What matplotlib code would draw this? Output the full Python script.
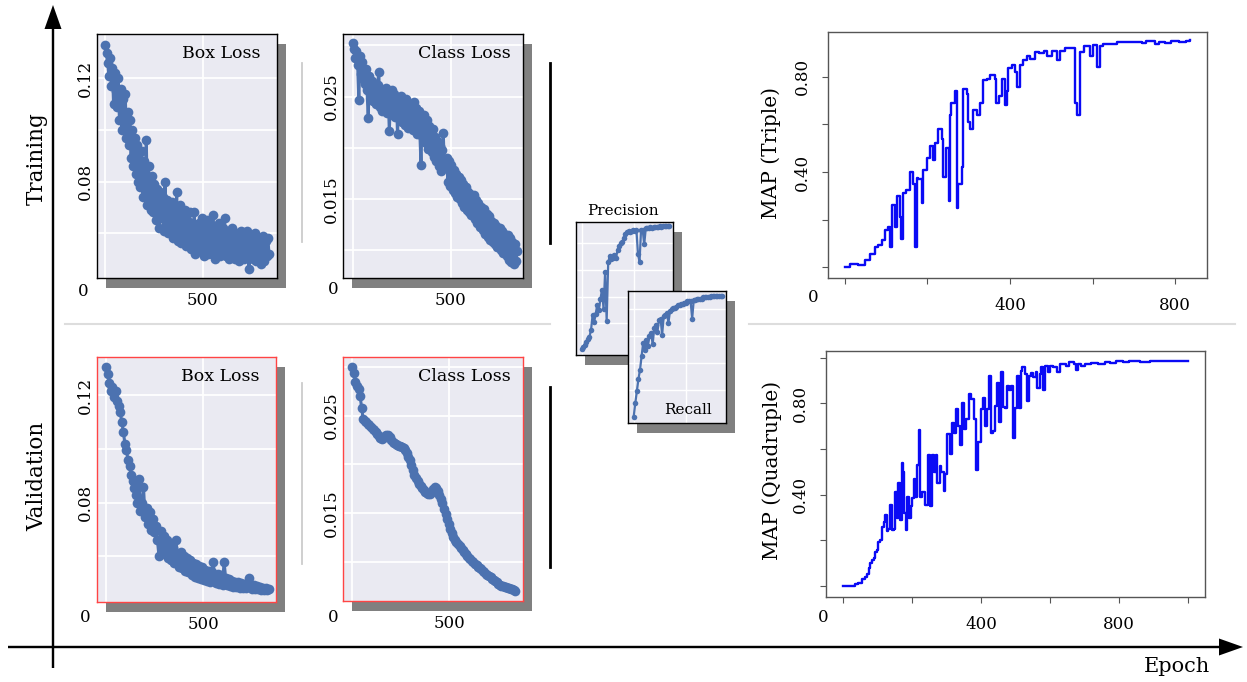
import matplotlib
matplotlib.use("Agg")
import matplotlib.pyplot as plt
from matplotlib.patches import Rectangle
import numpy as np

W, H = 1247, 682
plt.rcParams['font.family'] = 'DejaVu Serif'

SNS_BLUE = '#4C72B0'
PANEL_BG = '#EAEAF2'

# ---- training losses (one point every 6 epochs) ----
train_box = [
    0.133, 0.130, 0.126, 0.121, 0.128, 0.117, 0.124, 0.110, 0.122, 0.115,
    0.109, 0.120, 0.104, 0.116, 0.100, 0.112, 0.103, 0.114, 0.097, 0.107,
    0.094, 0.104, 0.089, 0.100, 0.086, 0.097, 0.083, 0.094, 0.080, 0.091,
    0.078, 0.092, 0.074, 0.088, 0.077, 0.096, 0.071, 0.086, 0.075, 0.069,
    0.082, 0.068, 0.079, 0.065, 0.077, 0.070, 0.062, 0.076, 0.066, 0.074,
    0.061, 0.080, 0.064, 0.073, 0.060, 0.071, 0.062, 0.072, 0.058, 0.069,
    0.060, 0.076, 0.057, 0.068, 0.071, 0.056, 0.066, 0.059, 0.069, 0.055,
    0.065, 0.057, 0.068, 0.054, 0.064, 0.056, 0.068, 0.052, 0.063, 0.055,
    0.064, 0.053, 0.061, 0.066, 0.051, 0.062, 0.054, 0.065, 0.052, 0.061,
    0.063, 0.052, 0.067, 0.055, 0.050, 0.061, 0.053, 0.064, 0.051, 0.060,
    0.053, 0.062, 0.066, 0.051, 0.059, 0.061, 0.050, 0.058, 0.062, 0.052,
    0.059, 0.050, 0.060, 0.053, 0.049, 0.058, 0.061, 0.051, 0.057, 0.050,
    0.058, 0.061, 0.051, 0.046, 0.057, 0.059, 0.050, 0.056, 0.060, 0.049,
    0.057, 0.050, 0.058, 0.048, 0.056, 0.059, 0.049, 0.057, 0.051, 0.058,
    0.052,
]
train_cls = [
    0.0302, 0.0296, 0.0288, 0.0294, 0.0281, 0.0247, 0.0290, 0.0272, 0.0284, 0.0266,
    0.0262, 0.0277, 0.0256, 0.0229, 0.0270, 0.0251, 0.0265, 0.0246, 0.0262, 0.0249,
    0.0243, 0.0261, 0.0274, 0.0240, 0.0257, 0.0236, 0.0254, 0.0238, 0.0258, 0.0234,
    0.0253, 0.0216, 0.0249, 0.0256, 0.0232, 0.0252, 0.0230, 0.0249, 0.0213, 0.0247,
    0.0229, 0.0251, 0.0225, 0.0246, 0.0222, 0.0248, 0.0227, 0.0219, 0.0244, 0.0223,
    0.0242, 0.0217, 0.0245, 0.0220, 0.0239, 0.0213, 0.0236, 0.0216, 0.0183, 0.0231,
    0.0210, 0.0232, 0.0205, 0.0227, 0.0199, 0.0221, 0.0202, 0.0196, 0.0218, 0.0191,
    0.0211, 0.0187, 0.0207, 0.0182, 0.0202, 0.0177, 0.0198, 0.0214, 0.0180, 0.0186,
    0.0190, 0.0167, 0.0187, 0.0163, 0.0183, 0.0159, 0.0178, 0.0156, 0.0174, 0.0152,
    0.0172, 0.0150, 0.0169, 0.0146, 0.0165, 0.0142, 0.0162, 0.0139, 0.0157, 0.0137,
    0.0155, 0.0134, 0.0152, 0.0154, 0.0131, 0.0149, 0.0127, 0.0146, 0.0123, 0.0142,
    0.0137, 0.0120, 0.0140, 0.0116, 0.0135, 0.0113, 0.0133, 0.0110, 0.0129, 0.0108,
    0.0127, 0.0106, 0.0124, 0.0103, 0.0122, 0.0122, 0.0100, 0.0119, 0.0097, 0.0116,
    0.0112, 0.0094, 0.0115, 0.0091, 0.0112, 0.0089, 0.0108, 0.0087, 0.0106, 0.0090,
    0.0099,
]

# ---- validation losses (one point every 8 epochs) ----
val_box = [
    0.1306, 0.1280, 0.1245, 0.1218, 0.1232, 0.1195, 0.1215, 0.1180, 0.1160, 0.1138,
    0.1100, 0.1065, 0.1020, 0.0995, 0.0960, 0.0935, 0.0905, 0.0880, 0.0855, 0.0830,
    0.0800, 0.0890, 0.0770, 0.0800, 0.0860, 0.0745, 0.0780, 0.0720, 0.0765, 0.0700,
    0.0740, 0.0690, 0.0715, 0.0660, 0.0600, 0.0695, 0.0630, 0.0675, 0.0610, 0.0660,
    0.0595, 0.0645, 0.0585, 0.0630, 0.0575, 0.0660, 0.0600, 0.0560, 0.0615, 0.0555,
    0.0600, 0.0545, 0.0595, 0.0540, 0.0585, 0.0530, 0.0575, 0.0525, 0.0570, 0.0520,
    0.0565, 0.0515, 0.0560, 0.0512, 0.0550, 0.0508, 0.0545, 0.0505, 0.0540, 0.0580,
    0.0520, 0.0500, 0.0535, 0.0498, 0.0530, 0.0495, 0.0580, 0.0520, 0.0492, 0.0515,
    0.0490, 0.0510, 0.0487, 0.0505, 0.0485, 0.0503, 0.0484, 0.0500, 0.0482, 0.0498,
    0.0482, 0.0495, 0.0520, 0.0490, 0.0480, 0.0492, 0.0478, 0.0488, 0.0477, 0.0485,
    0.0476, 0.0483, 0.0475, 0.0481, 0.0476, 0.0478,
]
val_cls = [
    0.0300, 0.0294, 0.0284, 0.0280, 0.0277, 0.0270, 0.0258, 0.0246, 0.0244, 0.0243,
    0.0241, 0.0240, 0.0238, 0.0236, 0.0235, 0.0233, 0.0231, 0.0229, 0.0227, 0.0226,
    0.0227, 0.0229, 0.0230, 0.0230, 0.0228, 0.0225, 0.0223, 0.0222, 0.0221, 0.0220,
    0.0219, 0.0219, 0.0218, 0.0217, 0.0215, 0.0212, 0.0208, 0.0204, 0.0199, 0.0194,
    0.0189, 0.0186, 0.0183, 0.0180, 0.0178, 0.0176, 0.0174, 0.0172, 0.0171, 0.0170,
    0.0170, 0.0172, 0.0175, 0.0177, 0.0176, 0.0173, 0.0169, 0.0165, 0.0160, 0.0154,
    0.0149, 0.0144, 0.0139, 0.0134, 0.0130, 0.0126, 0.0123, 0.0120, 0.0118, 0.0116,
    0.0114, 0.0112, 0.0110, 0.0108, 0.0106, 0.0104, 0.0103, 0.0101, 0.0100, 0.0098,
    0.0097, 0.0095, 0.0094, 0.0093, 0.0091, 0.0090, 0.0088, 0.0087, 0.0086, 0.0085,
    0.0083, 0.0082, 0.0080, 0.0079, 0.0077, 0.0076, 0.0075, 0.0075, 0.0074, 0.0074,
    0.0073, 0.0073, 0.0072, 0.0072, 0.0071, 0.0070,
]

# ---- precision / recall (one point every 15 epochs) ----
precision = [
    0.01, 0.02, 0.04, 0.06, 0.08, 0.10, 0.15, 0.26, 0.21, 0.27,
    0.34, 0.30, 0.38, 0.45, 0.31, 0.58, 0.22, 0.66, 0.70, 0.68,
    0.69, 0.71, 0.69, 0.75, 0.78, 0.80, 0.81, 0.84, 0.87, 0.88,
    0.89, 0.88, 0.89, 0.90, 0.89, 0.90, 0.72, 0.66, 0.90, 0.90,
    0.79, 0.91, 0.91, 0.91, 0.92, 0.91, 0.92, 0.92, 0.92, 0.92,
    0.93, 0.92, 0.93, 0.93, 0.93, 0.93, 0.93,
]
recall = [
    0.00, 0.10, 0.19, 0.28, 0.35, 0.45, 0.55, 0.50, 0.57, 0.53,
    0.60, 0.62, 0.54, 0.66, 0.68, 0.63, 0.72, 0.73, 0.61, 0.75,
    0.76, 0.77, 0.70, 0.79, 0.80, 0.81, 0.81, 0.82, 0.83, 0.83,
    0.84, 0.84, 0.85, 0.85, 0.86, 0.86, 0.86, 0.73, 0.87, 0.87,
    0.88, 0.88, 0.88, 0.88, 0.89, 0.89, 0.89, 0.89, 0.89, 0.90,
    0.90, 0.90, 0.90, 0.90, 0.90, 0.90, 0.90,
]

# ---- mAP curves: epoch where the value changes, and the new value ----
triple_ep = [
    0, 12, 32, 48, 60, 73, 81, 89, 97, 105, 109, 113, 121, 125, 133, 137, 141, 149,
    157, 166, 170, 174, 178, 186, 190, 198, 206, 214, 218, 226, 234, 238, 246, 251,
    254, 258, 267, 271, 275, 283, 287, 295, 299, 303, 311, 319, 327, 335, 343, 351,
    363, 367, 372, 380, 388, 392, 396, 404, 412, 416, 424, 432, 440, 448, 460, 469,
    481, 489, 501, 513, 521, 533, 557, 561, 570, 578, 594, 602, 610, 618, 626, 659,
    680, 720, 730, 750, 760, 775, 790, 810, 825, 836,
]
triple_map = [
    0.000, 0.014, 0.010, 0.028, 0.056, 0.085, 0.092, 0.113, 0.155, 0.170, 0.085, 0.260,
    0.170, 0.300, 0.210, 0.120, 0.310, 0.325, 0.400, 0.350, 0.085, 0.375, 0.370, 0.270,
    0.410, 0.460, 0.510, 0.450, 0.520, 0.580, 0.540, 0.380, 0.500, 0.280, 0.640, 0.690,
    0.740, 0.250, 0.350, 0.420, 0.750, 0.730, 0.610, 0.580, 0.660, 0.640, 0.690, 0.785,
    0.790, 0.810, 0.790, 0.690, 0.720, 0.790, 0.680, 0.740, 0.837, 0.850, 0.820, 0.756,
    0.850, 0.870, 0.890, 0.876, 0.905, 0.900, 0.910, 0.890, 0.910, 0.870, 0.910, 0.920,
    0.690, 0.640, 0.905, 0.930, 0.890, 0.935, 0.840, 0.930, 0.940, 0.945, 0.948, 0.944,
    0.950, 0.940, 0.948, 0.942, 0.950, 0.946, 0.952, 0.955,
]
quad_ep = [
    0, 20, 35, 45, 55, 63, 69, 75, 79, 85, 89, 94, 98, 103, 108, 113, 118, 122, 127,
    132, 137, 141, 148, 152, 156, 160, 164, 170, 175, 178, 183, 187, 192, 197, 201,
    206, 210, 215, 219, 223, 228, 238, 246, 252, 258, 264, 269, 274, 280, 285, 292,
    297, 302, 309, 316, 323, 328, 333, 340, 345, 352, 357, 364, 372, 381, 386, 392,
    399, 406, 411, 418, 423, 428, 435, 442, 447, 452, 458, 463, 469, 476, 481, 487,
    493, 498, 503, 510, 515, 520, 528, 533, 538, 545, 550, 558, 562, 570, 575, 580,
    585, 595, 600, 610, 620, 630, 645, 655, 670, 675, 680, 690, 700, 720, 740, 760,
    775, 790, 810, 830, 860, 890, 920, 950, 1000,
]
quad_map = [
    0.000, 0.002, 0.008, 0.015, 0.030, 0.040, 0.054, 0.080, 0.100, 0.115, 0.125, 0.150,
    0.160, 0.195, 0.200, 0.260, 0.280, 0.310, 0.240, 0.250, 0.356, 0.245, 0.250, 0.410,
    0.300, 0.450, 0.290, 0.540, 0.500, 0.320, 0.245, 0.390, 0.300, 0.350, 0.385, 0.470,
    0.390, 0.530, 0.686, 0.390, 0.410, 0.356, 0.576, 0.350, 0.576, 0.500, 0.576, 0.450,
    0.525, 0.500, 0.415, 0.490, 0.665, 0.580, 0.716, 0.670, 0.775, 0.700, 0.620, 0.800,
    0.687, 0.730, 0.840, 0.820, 0.730, 0.510, 0.630, 0.775, 0.826, 0.700, 0.775, 0.920,
    0.670, 0.680, 0.790, 0.890, 0.720, 0.937, 0.785, 0.780, 0.878, 0.860, 0.878, 0.650,
    0.780, 0.920, 0.780, 0.944, 0.960, 0.930, 0.810, 0.920, 0.935, 0.915, 0.940, 0.870,
    0.930, 0.960, 0.860, 0.966, 0.937, 0.966, 0.960, 0.937, 0.973, 0.966, 0.980, 0.973,
    0.947, 0.973, 0.966, 0.973, 0.978, 0.975, 0.982, 0.976, 0.984, 0.980, 0.986, 0.983,
    0.987, 0.985, 0.988, 0.986,
]

train_ep = np.arange(len(train_box)) * 6
val_ep = np.arange(len(val_box)) * 8
pr_ep = np.arange(len(precision)) * 15


def frac(x0, y0, x1, y1):
    # pixel box (top-left origin) -> figure fraction rect
    return [x0 / W, 1 - y1 / H, (x1 - x0) / W, (y1 - y0) / H]


fig = plt.figure(figsize=(W / 100, H / 100), dpi=100)

# background layer in pixel coordinates for arrows, separators and free text
bg = fig.add_axes([0, 0, 1, 1], zorder=-5)
bg.set_autoscale_on(False)
bg.set_xlim(0, W)
bg.set_ylim(H, 0)
bg.axis('off')


def shadow(x0, y0, x1, y1, z=-4, dx=9, dy=10):
    fig.add_artist(Rectangle(((x0 + dx) / W, 1 - (y1 + dy) / H), (x1 - x0) / W, (y1 - y0) / H,
                             transform=fig.transFigure, fc='#808080', ec='none', zorder=z))


def loss_panel(px, ep, vals, xlim, ylim, grid_y, labels_y, title, title_x, edge):
    shadow(*px)
    ax = fig.add_axes(frac(*px))
    ax.set_facecolor(PANEL_BG)
    ax.plot(ep, vals, '-o', color=SNS_BLUE, ms=7, lw=2.2, mew=0)
    ax.set_xlim(xlim)
    ax.set_ylim(ylim)
    ax.set_xticks([0, 500])
    ax.set_xticklabels(['', '500'])
    ax.set_yticks(grid_y)
    ax.set_yticklabels(labels_y)
    ax.grid(color='white', lw=1.3)
    ax.set_axisbelow(True)
    ax.tick_params(length=0, labelsize=12)
    ax.tick_params(axis='x', pad=10)
    ax.tick_params(axis='y', pad=2, labelrotation=90)
    for t in ax.get_yticklabels():
        t.set_va('center')
    for s in ax.spines.values():
        s.set_color(edge)
        s.set_linewidth(1)
    ax.text(title_x, 0.92, title, transform=ax.transAxes, ha='right', va='center', fontsize=12.5)
    return ax


box_grid = [0.06, 0.08, 0.10, 0.12]
box_lab = ['', '0.08', '', '0.12']
cls_grid = [0.010, 0.015, 0.020, 0.025, 0.030]
cls_lab = ['', '0.015', '', '0.025', '']

loss_panel((97, 34, 277, 278), train_ep, train_box, (-43, 881), (0.0426, 0.1372),
           box_grid, box_lab, 'Box Loss', 0.91, 'black')
loss_panel((343, 34, 523, 278), train_ep, train_cls, (-51, 870), (0.0073, 0.0311),
           cls_grid, cls_lab, 'Class Loss', 0.93, 'black')
loss_panel((97, 357, 276, 602), val_ep, val_box, (-48, 876), (0.0430, 0.1343),
           box_grid, box_lab, 'Box Loss', 0.91, '#ff4444')
loss_panel((343, 357, 523, 601), val_ep, val_cls, (-48, 879), (0.0060, 0.0310),
           cls_grid, cls_lab, 'Class Loss', 0.93, '#ff4444')


def pr_panel(px, vals, ylim, z, shadow_z):
    shadow(*px, z=shadow_z)
    ax = fig.add_axes(frac(*px), zorder=z)
    ax.set_facecolor(PANEL_BG)
    ax.plot(pr_ep, vals, '-o', color=SNS_BLUE, ms=4, lw=1.6, mew=0)
    ax.set_xlim(-54, 876)
    ax.set_ylim(ylim)
    ax.set_xticks([0, 500])
    ax.set_yticks([0.2, 0.4, 0.6, 0.8])
    ax.set_xticklabels([])
    ax.set_yticklabels([])
    ax.tick_params(length=0)
    ax.grid(color='white', lw=1)
    ax.set_axisbelow(True)
    for s in ax.spines.values():
        s.set_color('black')
        s.set_linewidth(1)
    return ax


pr_panel((576, 222, 673, 355), precision, (-0.037, 0.957), 0, -4)
ax_rec = pr_panel((628, 291, 726, 423), recall, (-0.047, 0.936), 2, 1)
ax_rec.text(0.61, 0.10, 'Recall', transform=ax_rec.transAxes, ha='center', va='center', fontsize=11)
bg.text(623, 211, 'Precision', ha='center', va='center', fontsize=11)


def map_panel(px, ep, vals, xlim, ylim, xticks, xlabels, yticks, ylabels):
    ax = fig.add_axes(frac(*px))
    ax.step(ep, vals, where='post', color='#0a0af5', lw=1.7)
    ax.set_xlim(xlim)
    ax.set_ylim(ylim)
    ax.set_xticks(xticks)
    ax.set_xticklabels(xlabels)
    ax.set_yticks(yticks)
    ax.set_yticklabels(ylabels)
    ax.tick_params(direction='out', length=4, color='#555555', labelsize=12)
    ax.tick_params(axis='x', pad=9.5)
    ax.tick_params(axis='y', pad=8.5, labelrotation=90)
    for t in ax.get_yticklabels():
        t.set_va('center')
    for s in ax.spines.values():
        s.set_color('#555555')
        s.set_linewidth(1)
    return ax


map_panel((828, 32, 1207, 278), triple_ep, triple_map, (-41, 877), (-0.046, 0.989),
          [0, 200, 400, 600, 800], ['', '', '400', '', '800'],
          [0.0, 0.2, 0.4, 0.6, 0.8], ['', '', '0.40', '', '0.80'])
map_panel((826, 351, 1205, 597), quad_ep, quad_map, (-49, 1049), (-0.048, 1.03),
          [0, 200, 400, 600, 800, 1000], ['', '', '400', '', '800', ''],
          [0.0, 0.2, 0.4, 0.6, 0.8, 1.0], ['', '', '0.40', '', '0.80', ''])

bg.text(771, 153, 'MAP (Triple)', rotation=90, ha='center', va='center', fontsize=14.5)
bg.text(772, 470, 'MAP (Quadruple)', rotation=90, ha='center', va='center', fontsize=14.5)

# stray zero labels left of each panel
for x, y in [(83, 291), (333, 289), (85, 617), (333, 617), (813, 297), (823, 617)]:
    bg.text(x, y, '0', ha='center', va='center', fontsize=12)

# row labels and axes arrows
bg.text(37, 159, 'Training', rotation=90, ha='center', va='center', fontsize=15.5)
bg.text(37, 476, 'Validation', rotation=90, ha='center', va='center', fontsize=15.5)
bg.text(1177, 666, 'Epoch', ha='center', va='center', fontsize=15)
bg.arrow(53, 668, 0, -663, width=2.4, head_width=17, head_length=24,
         length_includes_head=True, fc='black', ec='none')
bg.arrow(8, 647, 1235, 0, width=2.4, head_width=17, head_length=24,
         length_includes_head=True, fc='black', ec='none')

# separators
bg.plot([65, 550], [324, 324], color='#dddddd', lw=1.5)
bg.plot([749, 1235], [324, 324], color='#dddddd', lw=1.5)
bg.plot([302, 302], [63, 242], color='#cccccc', lw=1.3)
bg.plot([302, 302], [383, 564], color='#cccccc', lw=1.3)
bg.plot([550, 550], [63, 243], color='black', lw=2)
bg.plot([550, 550], [387, 567], color='black', lw=2)

fig.savefig('out.png', dpi=100)
